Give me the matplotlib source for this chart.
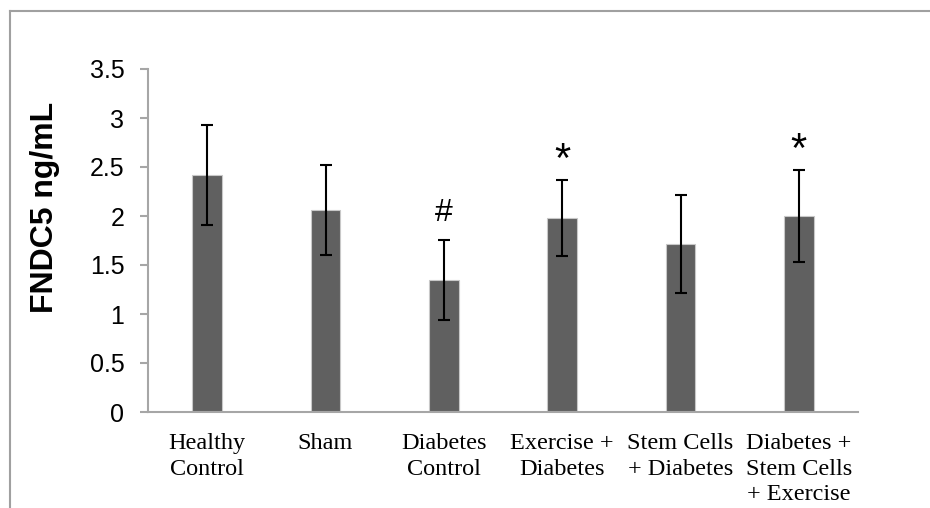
import matplotlib
matplotlib.use('Agg')
import matplotlib.pyplot as plt
from matplotlib.lines import Line2D
import numpy as np

# Datos
groups = ['Healthy\nControl', 'Sham', 'Diabetes\nControl', 'Exercise +\nDiabetes',
          'Stem Cells\n+ Diabetes', 'Diabetes +\nStem Cells\n+ Exercise']
means = [2.42, 2.06, 1.35, 1.98, 1.71, 2.00]
errors = [0.51, 0.46, 0.41, 0.39, 0.50, 0.47]
marks = ['', '', '#', '*', '', '*']

fig = plt.figure(figsize=(9.3, 5.08), dpi=100)
ax = fig.add_axes([148 / 930, 1 - 412 / 508, 710 / 930, 343 / 508])

x = np.arange(len(groups))
ax.bar(x, means, width=0.25, color='#606060', edgecolor='#c8c8c8', linewidth=0.8, zorder=2)
ax.errorbar(x, means, yerr=errors, fmt='none', ecolor='black', elinewidth=1.5,
            capsize=4.5, capthick=1.5, zorder=3)

for xi, m, e, s in zip(x, means, errors, marks):
    if s == '#':
        ax.annotate(s, (xi, m + e), xytext=(0, 8), textcoords='offset points',
                    ha='center', va='bottom', fontsize=23, family='Liberation Sans')
    elif s == '*':
        ax.annotate(s, (xi, m + e), xytext=(0, -1), textcoords='offset points',
                    ha='center', va='bottom', fontsize=30, family='Liberation Sans')

ax.set_xlim(-0.5, len(groups) - 0.5)
ax.set_ylim(0, 3.5)
ax.set_yticks(np.arange(0, 3.51, 0.5))
ax.set_yticklabels(['0', '0.5', '1', '1.5', '2', '2.5', '3', '3.5'],
                   fontsize=18, family='Liberation Sans')
ax.set_xticks(x)
ax.set_xticklabels(groups, fontsize=17.5, family='Liberation Serif', linespacing=1.3)
ax.tick_params(axis='x', length=0, pad=15)
ax.tick_params(axis='y', length=6, width=1.5, color='#a6a6a6', pad=11)

for side in ['top', 'right']:
    ax.spines[side].set_visible(False)
for side in ['left', 'bottom']:
    ax.spines[side].set_color('#a6a6a6')
    ax.spines[side].set_linewidth(1.5)

ax.set_ylabel('FNDC5 ng/mL', fontsize=23, fontweight='bold', family='Liberation Sans',
              va='center')
ax.yaxis.set_label_coords(-0.145, 0.596)

# Marco exterior (solo arriba e izquierda)
fig.add_artist(Line2D([10 / 930, 1], [1 - 11 / 508, 1 - 11 / 508],
                      color='#a0a0a0', linewidth=1.5, transform=fig.transFigure))
fig.add_artist(Line2D([10 / 930, 10 / 930], [0, 1 - 11 / 508],
                      color='#a0a0a0', linewidth=1.5, transform=fig.transFigure))

fig.savefig('out.png', dpi=100)
